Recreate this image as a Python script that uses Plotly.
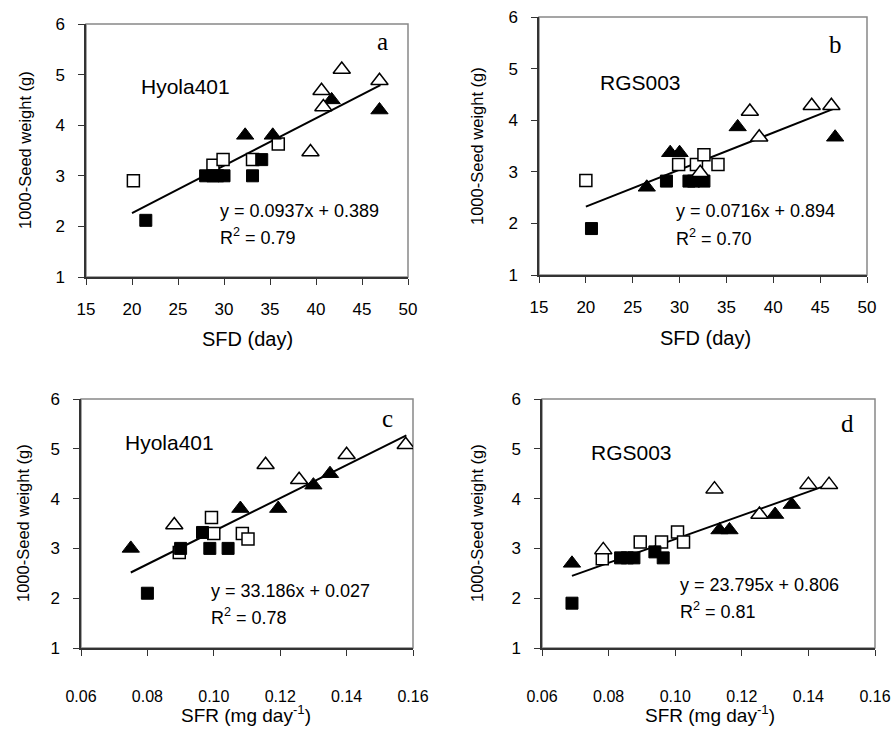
import plotly.graph_objects as go

W, H = 893, 733

# ---- data ----
# panel a: Hyola401, SFD vs 1000-seed weight
a_open_sq_x = [20.15, 28.8, 29.9, 33.1, 35.9]
a_open_sq_y = [2.90, 3.21, 3.32, 3.32, 3.63]
a_fill_sq_x = [21.5, 28.0, 28.8, 29.3, 30.0, 33.1, 34.1]
a_fill_sq_y = [2.12, 3.0, 3.0, 3.0, 3.0, 3.0, 3.32]
a_fill_tri_x = [32.3, 35.3, 41.7, 46.9]
a_fill_tri_y = [3.8, 3.8, 4.5, 4.3]
a_open_tri_x = [39.4, 40.6, 40.8, 42.8, 46.9]
a_open_tri_y = [3.47, 4.68, 4.36, 5.1, 4.88]

# panel b: RGS003, SFD
b_open_sq_x = [20.0, 29.9, 31.8, 32.6, 34.1]
b_open_sq_y = [2.83, 3.14, 3.14, 3.33, 3.14]
b_fill_sq_x = [20.6, 28.6, 31.0, 31.5, 32.6]
b_fill_sq_y = [1.90, 2.82, 2.82, 2.82, 2.82]
b_fill_tri_x = [26.5, 29.0, 30.0, 36.2, 46.6]
b_fill_tri_y = [2.7, 3.37, 3.37, 3.87, 3.67]
b_open_tri_x = [32.2, 37.5, 38.5, 44.1, 46.2]
b_open_tri_y = [2.98, 4.17, 3.67, 4.28, 4.28]

# panel c: Hyola401, SFR
c_open_sq_x = [0.0896, 0.0993, 0.100, 0.1086, 0.1103]
c_open_sq_y = [2.92, 3.62, 3.30, 3.30, 3.19]
c_fill_sq_x = [0.080, 0.090, 0.0966, 0.0988, 0.1043]
c_fill_sq_y = [2.10, 3.0, 3.32, 3.0, 3.0]
c_fill_tri_x = [0.075, 0.108, 0.1194, 0.130, 0.135]
c_fill_tri_y = [3.0, 3.8, 3.8, 4.27, 4.5]
c_open_tri_x = [0.0881, 0.1156, 0.1257, 0.140, 0.1578]
c_open_tri_y = [3.47, 4.68, 4.38, 4.88, 5.08]

# panel d: RGS003, SFR
d_open_sq_x = [0.0781, 0.0895, 0.0959, 0.1007, 0.1025]
d_open_sq_y = [2.79, 3.13, 3.13, 3.33, 3.13]
d_fill_sq_x = [0.069, 0.0836, 0.0856, 0.0876, 0.0939, 0.0964]
d_fill_sq_y = [1.90, 2.81, 2.81, 2.81, 2.93, 2.81]
d_fill_tri_x = [0.069, 0.1133, 0.1163, 0.130, 0.135]
d_fill_tri_y = [2.7, 3.37, 3.37, 3.68, 3.88]
d_open_tri_x = [0.0784, 0.1118, 0.1253, 0.140, 0.1462]
d_open_tri_y = [2.97, 4.19, 3.68, 4.28, 4.28]

# trend lines (slope, intercept, x start, x end)
slopes = [0.0937, 0.0716, 33.186, 23.795]
intercepts = [0.389, 0.894, 0.027, 0.806]
line_x0 = [20.0, 20.0, 0.075, 0.069]
line_x1 = [47.0, 46.7, 0.158, 0.146]

equations = ["y = 0.0937x + 0.389", "y = 0.0716x + 0.894",
             "y = 33.186x + 0.027", "y = 23.795x + 0.806"]
r2_text = ["R<sup>2</sup> = 0.79", "R<sup>2</sup> = 0.70",
           "R<sup>2</sup> = 0.78", "R<sup>2</sup> = 0.81"]
cultivars = ["Hyola401", "RGS003", "Hyola401", "RGS003"]
letters = ["a", "b", "c", "d"]

panels = [
    (a_open_sq_x, a_open_sq_y, a_fill_sq_x, a_fill_sq_y, a_fill_tri_x, a_fill_tri_y, a_open_tri_x, a_open_tri_y),
    (b_open_sq_x, b_open_sq_y, b_fill_sq_x, b_fill_sq_y, b_fill_tri_x, b_fill_tri_y, b_open_tri_x, b_open_tri_y),
    (c_open_sq_x, c_open_sq_y, c_fill_sq_x, c_fill_sq_y, c_fill_tri_x, c_fill_tri_y, c_open_tri_x, c_open_tri_y),
    (d_open_sq_x, d_open_sq_y, d_fill_sq_x, d_fill_sq_y, d_fill_tri_x, d_fill_tri_y, d_open_tri_x, d_open_tri_y),
]

# plot boxes in pixels: left, right, top, bottom
boxes = [(86, 408, 24, 277), (539, 867, 17, 275), (81, 413, 399, 648), (542, 875, 399, 648)]


def px(x, y):
    return x / W, 1 - y / H


fig = go.Figure()
FONT = "Liberation Sans, Arial, sans-serif"
NARROW = "Liberation Sans Narrow, Arial Narrow, Liberation Sans, sans-serif"

for i, p in enumerate(panels):
    xa = "x" if i == 0 else "x%d" % (i + 1)
    ya = "y" if i == 0 else "y%d" % (i + 1)
    osx, osy, fsx, fsy, ftx, fty, otx, oty = p
    lx = [line_x0[i], line_x1[i]]
    ly = [slopes[i] * v + intercepts[i] for v in lx]
    fig.add_trace(go.Scatter(x=lx, y=ly, mode="lines", line=dict(color="black", width=2),
                             xaxis=xa, yaxis=ya, showlegend=False))
    fig.add_trace(go.Scatter(x=osx, y=osy, mode="markers", xaxis=xa, yaxis=ya, showlegend=False,
                             marker=dict(symbol="square", size=12, color="white",
                                         line=dict(color="black", width=1.5))))
    fig.add_trace(go.Scatter(x=fsx, y=fsy, mode="markers", xaxis=xa, yaxis=ya, showlegend=False,
                             marker=dict(symbol="square", size=12, color="black",
                                         line=dict(color="black", width=1))))
    fig.add_trace(go.Scatter(x=ftx, y=fty, mode="markers", xaxis=xa, yaxis=ya, showlegend=False,
                             marker=dict(symbol="triangle-up", size=15, color="black",
                                         line=dict(color="black", width=1))))
    fig.add_trace(go.Scatter(x=otx, y=oty, mode="markers", xaxis=xa, yaxis=ya, showlegend=False,
                             marker=dict(symbol="triangle-up", size=15, color="white",
                                         line=dict(color="black", width=1.5))))

layout = {}
for i, (l, r, t, b) in enumerate(boxes):
    xk = "xaxis" if i == 0 else "xaxis%d" % (i + 1)
    yk = "yaxis" if i == 0 else "yaxis%d" % (i + 1)
    sfd = i < 2
    xd = [l / W, r / W]
    yd = [1 - b / H, 1 - t / H]
    layout[xk] = dict(
        domain=xd, anchor="y" if i == 0 else "y%d" % (i + 1), automargin=False,
        range=[15, 50] if sfd else [0.06, 0.16],
        dtick=5 if sfd else 0.02, tick0=15 if sfd else 0.06,
        tickformat="d" if sfd else ".2f",
        showline=True, linecolor="#333", linewidth=1.5, ticks="outside", ticklen=6,
        tickcolor="#333", showgrid=False, zeroline=False,
        tickfont=dict(family=FONT if sfd else NARROW, size=17 if sfd else 16, color="black"),
        ticklabelstandoff=10 if sfd else 27,
    )
    layout[yk] = dict(
        domain=yd, anchor="x" if i == 0 else "x%d" % (i + 1), automargin=False,
        range=[1, 6], dtick=1, showline=True, linecolor="#333", linewidth=1.5,
        ticks="outside", ticklen=6, tickcolor="#333", showgrid=False, zeroline=False,
        tickfont=dict(family=FONT, size=17, color="black"), ticklabelstandoff=10,
    )

fig.update_layout(**layout)

shapes = []
annotations = []
for i, (l, r, t, b) in enumerate(boxes):
    x0, y0 = px(l, b)
    x1, y1 = px(r, t)
    shapes.append(dict(type="rect", xref="paper", yref="paper", x0=x0, y0=y0, x1=x1, y1=y1,
                       line=dict(color="#888", width=1.5), layer="below"))


def note(xp, yp, text, size, family=FONT, xanchor="center", angle=0):
    x, y = px(xp, yp)
    annotations.append(dict(x=x, y=y, xref="paper", yref="paper", text=text, showarrow=False,
                            xanchor=xanchor, yanchor="middle", textangle=angle,
                            font=dict(family=family, size=size, color="black")))


text_pos = [
    # letter, cultivar (left x, centre y), equation (left x, y), r2 y
    dict(letter=(382, 42), cult=(139, 86), eq=(218, 211), r2=236),
    dict(letter=(835, 45), cult=(598, 82), eq=(674, 211), r2=237),
    dict(letter=(387, 418), cult=(123, 442), eq=(209, 591), r2=616),
    dict(letter=(847, 423), cult=(589, 452), eq=(678, 585), r2=610),
]
for i, tp in enumerate(text_pos):
    note(*tp["letter"], letters[i], 25, family="Liberation Serif, Times New Roman, serif")
    note(*tp["cult"], cultivars[i], 21, xanchor="left")
    note(*tp["eq"], equations[i], 18, xanchor="left")
    note(tp["eq"][0], tp["r2"], r2_text[i], 18, xanchor="left")

# axis titles
for xc, yc in [(25, 150), (477, 146), (23, 523), (477, 523)]:
    note(xc, yc, "1000-Seed weight (g)", 16.5, angle=-90)
for xc, yc in [(247, 339), (705, 338)]:
    note(xc, yc, "SFD (day)", 20)
for xc, yc in [(246, 714), (710, 714)]:
    note(xc, yc, "SFR (mg day<sup>-1</sup>)", 19, family=NARROW)

fig.update_layout(
    width=W, height=H, margin=dict(l=0, r=0, t=0, b=0),
    plot_bgcolor="white", paper_bgcolor="white",
    shapes=shapes, annotations=annotations,
)

# remove the default page margin so the figure starts at the window corner
fig.write_html("out.html", config={"displayModeBar": False},
               post_script="document.body.style.margin='0';document.body.style.overflow='hidden';")
